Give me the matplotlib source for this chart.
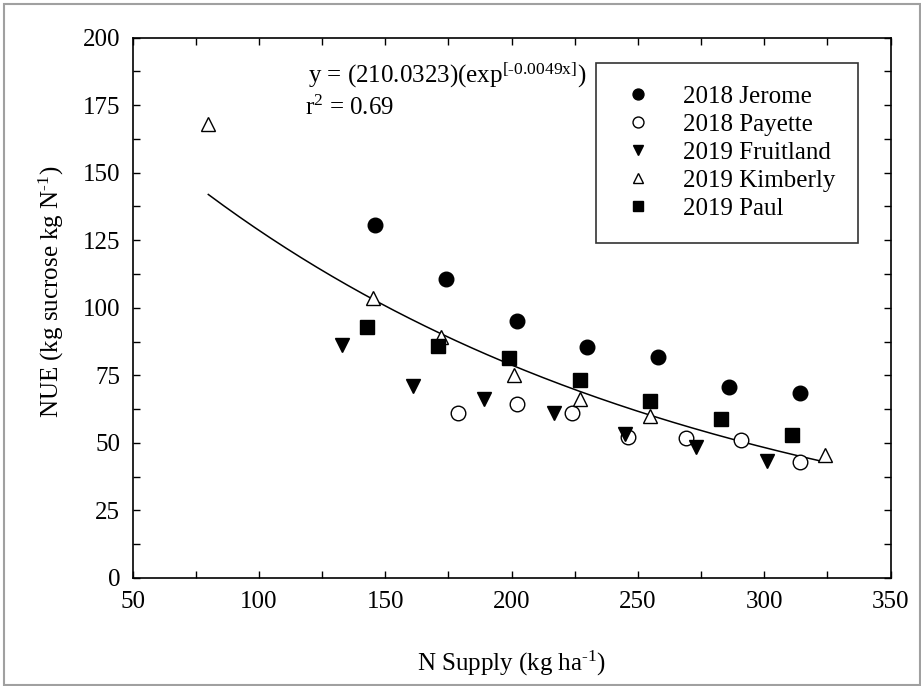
import numpy as np
import matplotlib
matplotlib.use("Agg")
import matplotlib.pyplot as plt
from matplotlib.ticker import MultipleLocator
from matplotlib.patches import Rectangle

plt.rcParams["font.family"] = ["Liberation Serif", "DejaVu Serif"]
plt.rcParams["mathtext.fontset"] = "custom"
plt.rcParams["mathtext.rm"] = "Liberation Serif"
plt.rcParams["mathtext.it"] = "Liberation Serif:italic"

# values
jerome_x = [146, 174, 202, 230, 258, 286, 314]
jerome_y = [130.6, 110.8, 95.2, 85.4, 81.9, 70.5, 68.4]

payette_x = [179, 202, 224, 246, 269, 291, 314]
payette_y = [60.9, 64.4, 61.0, 52.0, 51.7, 50.9, 43.1]

fruitland_x = [133, 161, 189, 217, 245, 273, 301]
fruitland_y = [86.3, 71.2, 66.2, 61.2, 53.3, 48.3, 43.4]

kimberly_x = [80, 145, 172, 201, 227, 255, 324]
kimberly_y = [168.0, 103.5, 89.3, 75.3, 66.1, 59.8, 45.5]

paul_x = [143, 171, 199, 227, 255, 283, 311]
paul_y = [92.8, 86.0, 81.4, 73.3, 65.4, 58.9, 52.9]

# fitted curve shown in the figure
fit_a = 210.0323
fit_b = -0.0049
fit_xmin, fit_xmax = 80, 324

fs = 18

fig = plt.figure(figsize=(9.21, 6.86), dpi=100)
ax = fig.add_axes([132.5 / 921, 1 - 578 / 686, 758 / 921, 540.5 / 686])

ms = 10.5
ax.plot(jerome_x, jerome_y, "o", ms=ms, mfc="black", mec="black", ls="none", label="2018 Jerome")
ax.plot(payette_x, payette_y, "o", ms=ms, mfc="white", mec="black", mew=1.0, ls="none", label="2018 Payette")
ax.plot(fruitland_x, fruitland_y, "v", ms=ms, mfc="black", mec="black", ls="none", label="2019 Fruitland")
ax.plot(kimberly_x, kimberly_y, "^", ms=ms, mfc="white", mec="black", mew=1.0, ls="none", label="2019 Kimberly")
ax.plot(paul_x, paul_y, "s", ms=9.5, mfc="black", mec="black", ls="none", label="2019 Paul")

xs = np.linspace(fit_xmin, fit_xmax, 200)
ax.plot(xs, fit_a * np.exp(fit_b * xs), color="black", lw=1.1, zorder=1)

ax.set_xlim(50, 350)
ax.set_ylim(0, 200)
ax.xaxis.set_major_locator(MultipleLocator(50))
ax.xaxis.set_minor_locator(MultipleLocator(25))
ax.yaxis.set_major_locator(MultipleLocator(25))
ax.yaxis.set_minor_locator(MultipleLocator(12.5))
ax.tick_params(which="both", direction="in", top=True, right=True,
               length=5, width=1.0, labelsize=fs, pad=9)
for s in ax.spines.values():
    s.set_linewidth(1.2)

ax.set_xlabel("N Supply (kg ha$^{\\text{-1}}$)", fontsize=fs, labelpad=26)
ax.set_ylabel("NUE (kg sucrose kg N$^{\\text{-1}}$)", fontsize=fs)
ax.yaxis.set_label_coords(-0.088, 0.53)

ax.text(0.232, 0.916, "y = (210.0323)(exp$^{\\text{[-0.0049x]}}$)", transform=ax.transAxes,
        fontsize=fs, va="baseline", ha="left")
ax.text(0.228, 0.857, "r$^{\\text{2}}$ = 0.69", transform=ax.transAxes,
        fontsize=fs, va="baseline", ha="left")

leg = ax.legend(loc="upper right", fontsize=fs, frameon=True, fancybox=False,
                edgecolor="black", markerscale=0.75, handletextpad=1.0,
                labelspacing=0.22, borderpad=0.9, handlelength=1.6,
                borderaxespad=0)
leg.set_bbox_to_anchor((858 / 921, 1 - 63 / 686), transform=fig.transFigure)
leg.get_frame().set_linewidth(1.2)

fig.patches.append(Rectangle((4 / 921, 1 / 686), 1 - 5 / 921, 1 - 5 / 686,
                             transform=fig.transFigure, fill=False,
                             edgecolor="#a0a0a0", lw=1.5))

fig.savefig("out.png", dpi=100)
